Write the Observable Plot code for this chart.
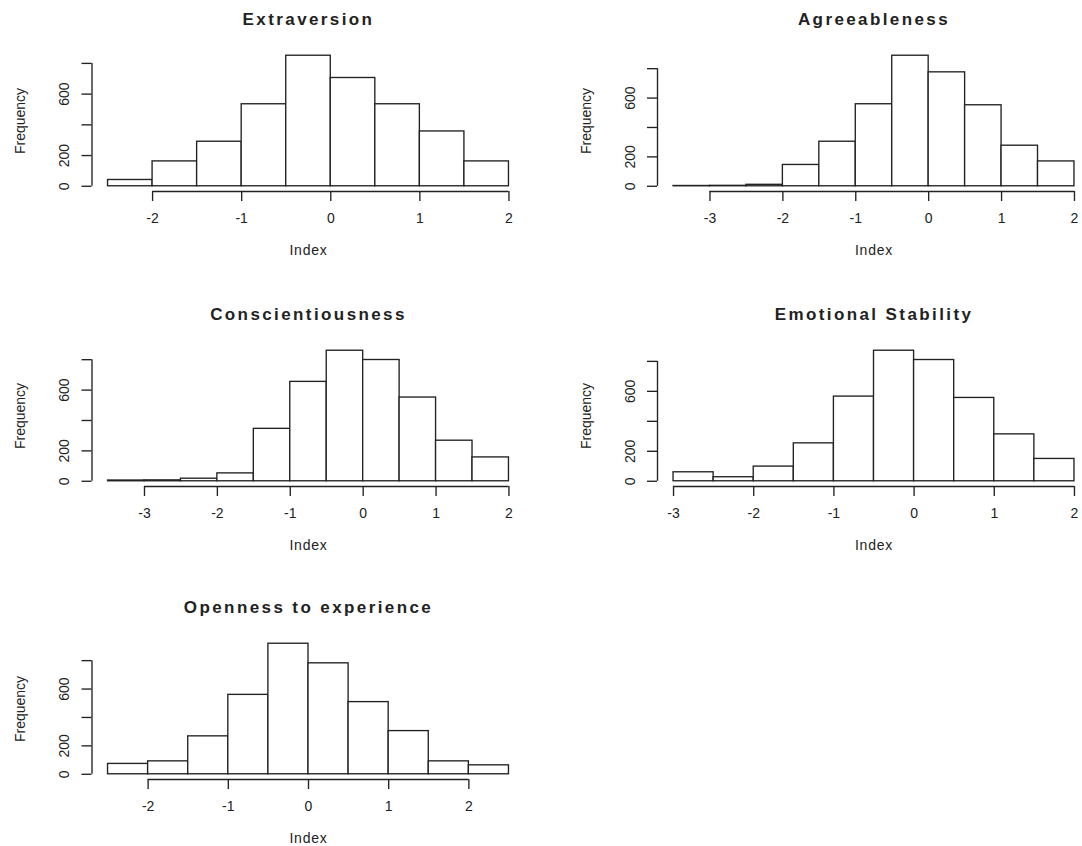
<!DOCTYPE html>
<html><head><meta charset="utf-8">
<script src="https://cdn.jsdelivr.net/npm/d3@7"></script>
<script src="https://cdn.jsdelivr.net/npm/@observablehq/plot@0.6"></script>
<style>
body{margin:0;background:#fff;}
#wrap{position:relative;width:1082px;height:846px;overflow:hidden;background:#fff;}
.panel{position:absolute;}
.panel svg{overflow:visible;max-width:none !important;}
</style></head><body><div id="wrap"></div>
<script>
// ---- data ----
const panelTitles = ["Extraversion", "Agreeableness", "Conscientiousness", "Emotional Stability", "Openness to experience"];
const binWidth = 0.5;

const extraversionStart = -2.5;
const extraversionCounts = [41, 162, 290, 534, 850, 705, 534, 357, 162];
const extraversionTicks = [-2, -1, 0, 1, 2];

const agreeablenessStart = -3.5;
const agreeablenessCounts = [2, 3, 10, 145, 303, 558, 888, 775, 551, 276, 169];
const agreeablenessTicks = [-3, -2, -1, 0, 1, 2];

const conscientiousnessStart = -3.5;
const conscientiousnessCounts = [5, 6, 17, 52, 345, 654, 859, 798, 551, 267, 157];
const conscientiousnessTicks = [-3, -2, -1, 0, 1, 2];

const stabilityStart = -3;
const stabilityCounts = [60, 27, 98, 253, 565, 871, 809, 556, 313, 149];
const stabilityTicks = [-3, -2, -1, 0, 1, 2];

const opennessStart = -2.5;
const opennessCounts = [73, 91, 267, 559, 919, 781, 508, 304, 91, 63];
const opennessTicks = [-2, -1, 0, 1, 2];

const yTicks = [0, 200, 400, 600, 800];
const yTickLabels = [0, 200, 600];
const xLabel = "Index";
const yLabel = "Frequency";

// ---- drawing ----
const ink = "#222";
const font = "'Liberation Sans', Arial, Helvetica, sans-serif";
const starts = [extraversionStart, agreeablenessStart, conscientiousnessStart, stabilityStart, opennessStart];
const countsList = [extraversionCounts, agreeablenessCounts, conscientiousnessCounts, stabilityCounts, opennessCounts];
const ticksList = [extraversionTicks, agreeablenessTicks, conscientiousnessTicks, stabilityTicks, opennessTicks];

const txt = {fill: ink, fontSize: 14, textAnchor: "middle", lineAnchor: "middle"};

const wrap = document.getElementById("wrap");
panelTitles.forEach((title, i) => {
  const counts = countsList[i], start = starts[i], xt = ticksList[i];
  const bins = counts.map((c, k) => ({x0: start + k * binWidth, x1: start + (k + 1) * binWidth, base: 0, count: c}));
  const lo = bins[0].x0, hi = bins[bins.length - 1].x1, r = hi - lo;
  const max = d3.max(counts);
  const xd = [lo - 0.04 * r, hi + 0.04 * r];
  const yd = [-0.04 * max, 1.04 * max];
  const col = i % 2, row = Math.floor(i / 2);
  const width = col ? 560 : 541;
  const marginLeft = col ? 116 : 91.5;
  const plotW = 433;
  const chart = Plot.plot({
    width, height: 294,
    marginLeft, marginRight: width - marginLeft - plotW,
    marginTop: 50, marginBottom: 103,
    x: {domain: xd},
    y: {domain: yd},
    style: {fontFamily: font, color: ink, background: "transparent", overflow: "visible", maxWidth: "none"},
    marks: [
      Plot.rectY(bins, {x1: "x0", x2: "x1", y1: "base", y2: "count", fill: "white", stroke: ink, strokeWidth: 1.35}),
      Plot.ruleY([{y: yd[0], a: xt[0], b: xt[xt.length - 1]}], {y: "y", x1: "a", x2: "b", stroke: ink, strokeWidth: 1.35}),
      Plot.axisX({ticks: xt, anchor: "bottom", tickSize: 10, tickFormat: () => "", label: null, stroke: ink, strokeWidth: 1.35}),
      Plot.text(xt, {...txt, x: d => d, text: d => String(d), frameAnchor: "bottom", dy: 27.5}),
      Plot.ruleX([{x: xd[0], a: yTicks[0], b: yTicks[yTicks.length - 1]}], {x: "x", y1: "a", y2: "b", stroke: ink, strokeWidth: 1.35}),
      Plot.axisY({ticks: yTicks, anchor: "left", tickSize: 10, tickFormat: () => "", label: null, stroke: ink, strokeWidth: 1.35}),
      Plot.text(yTickLabels, {...txt, y: d => d, text: d => String(d), frameAnchor: "left", dx: -27, rotate: -90}),
      Plot.text([yLabel], {...txt, frameAnchor: "left", dx: -71, rotate: -90}),
      Plot.text([xLabel], {...txt, frameAnchor: "bottom", dy: 59.5}),
      Plot.text([title], {...txt, frameAnchor: "top", dy: -30.5, fontSize: 17, fontWeight: "bold"})
    ]
  });
  const svg = d3.select(chart);
  svg.style("max-width", "none").attr("width", width);
  svg.selectAll("text").filter(function () { return this.textContent === title; }).style("letter-spacing", "2.4px");
  svg.selectAll("text").filter(function () { return this.textContent === xLabel; }).style("letter-spacing", "0.8px");
  const div = document.createElement("div");
  div.className = "panel";
  div.style.left = (col ? 541 : 0) + "px";
  div.style.top = [0, 294.5, 588][row] + "px";
  div.style.width = width + "px";
  div.appendChild(chart);
  wrap.appendChild(div);
});
</script>
</body></html>
